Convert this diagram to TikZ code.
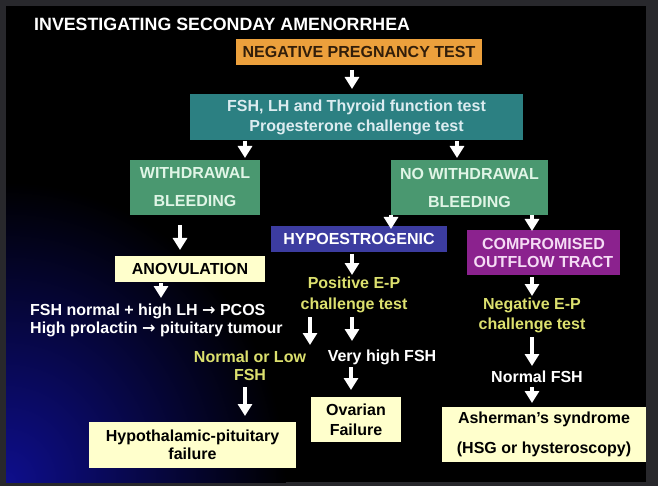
\documentclass[tikz,border=0pt]{standalone}
\usepackage{fontspec}
\setmainfont{Liberation Sans}
\newfontfamily\djv{DejaVu Sans}
\usetikzlibrary{arrows.meta}
\definecolor{framegray}{RGB}{40,40,44}
\definecolor{orangebox}{RGB}{236,160,60}
\definecolor{orangetext}{RGB}{50,30,10}
\definecolor{tealbox}{RGB}{44,128,130}
\definecolor{tealtext}{RGB}{220,236,240}
\definecolor{greenbox}{RGB}{74,152,112}
\definecolor{greentext}{RGB}{224,245,230}
\definecolor{bluebox}{RGB}{60,60,160}
\definecolor{purplebox}{RGB}{139,34,142}
\definecolor{purpletext}{RGB}{245,220,245}
\definecolor{creambox}{RGB}{255,255,204}
\definecolor{yellowtext}{RGB}{220,224,110}
\definecolor{glowblue}{RGB}{14,14,140}
\tikzset{
  boxnode/.style={inner sep=0pt, align=center, font=\bfseries\fontsize{16}{18}\selectfont},
  txtnode/.style={inner sep=0pt, align=center, font=\bfseries\fontsize{16}{18}\selectfont},
  arr/.style={draw=white, line width=4.5pt, -{Triangle[width=14pt,length=12pt]}}
}
\begin{document}
\begin{tikzpicture}[x=1pt,y=-1pt]
\useasboundingbox (0,0) rectangle (658,486);
\fill[framegray] (0,0) rectangle (658,486);
\fill[black] (6,6) rectangle (646,482);
\begin{scope}
  \clip (6,6) rectangle (646,482);
  \shade[inner color=glowblue, outer color=black] (6,482) ellipse [x radius=280, y radius=300];
\end{scope}

% title
\node[anchor=west, inner sep=0pt, text=white, font=\bfseries\fontsize{17.8}{20}\selectfont] (title) at (34,24) {INVESTIGATING SECONDAY AMENORRHEA};

% boxes
\node[boxnode, fill=orangebox, text=orangetext, minimum width=246pt, minimum height=26pt] (neg) at (359,52) {NEGATIVE PREGNANCY TEST};
\node[boxnode, fill=tealbox, text=tealtext, minimum width=333pt, minimum height=46pt, font=\bfseries\fontsize{16}{20}\selectfont] (fsh) at (356.5,117) {FSH, LH and Thyroid function test\\Progesterone challenge test};
\node[boxnode, fill=greenbox, text=greentext, minimum width=130pt, minimum height=55pt, font=\bfseries\fontsize{16}{28}\selectfont] (wd) at (195,187.5) {WITHDRAWAL\\BLEEDING};
\node[boxnode, fill=greenbox, text=greentext, minimum width=157pt, minimum height=55pt, font=\bfseries\fontsize{16}{28}\selectfont] (nwd) at (469.5,187.5) {NO WITHDRAWAL\\BLEEDING};
\node[boxnode, fill=bluebox, text=white, minimum width=176pt, minimum height=26pt] (hypo) at (359,239) {HYPOESTROGENIC};
\node[boxnode, fill=purplebox, text=purpletext, minimum width=153pt, minimum height=45pt] (comp) at (543.5,252.5) {COMPROMISED\\OUTFLOW TRACT};
\node[boxnode, fill=creambox, text=black, minimum width=150pt, minimum height=26pt] (anov) at (190,269) {ANOVULATION};
\node[boxnode, fill=creambox, text=black, minimum width=207pt, minimum height=46pt] (hyp) at (192.5,445) {Hypothalamic-pituitary\\failure};
\node[boxnode, fill=creambox, text=black, minimum width=90pt, minimum height=45pt, font=\bfseries\fontsize{16}{20}\selectfont] (ova) at (356,419.5) {Ovarian\\Failure};
\node[boxnode, fill=creambox, text=black, minimum width=204pt, minimum height=55pt, font=\bfseries\fontsize{16}{30}\selectfont] (ash) at (544,434.5) {Asherman's syndrome\\(HSG or hysteroscopy)};

% free texts
\node[txtnode, anchor=west, align=left, text=white] (pcos) at (30,320) {FSH normal + high LH {\djv\bfseries →} PCOS\\High prolactin {\djv\bfseries →} pituitary tumour};
\node[txtnode, text=yellowtext, font=\bfseries\fontsize{16}{21}\selectfont] (pos) at (354,294.5) {Positive E-P\\challenge test};
\node[txtnode, text=yellowtext] (normlow) at (250,366) {Normal or Low\\FSH};
\node[txtnode, text=white] (vh) at (382,357) {Very high FSH};
\node[txtnode, text=yellowtext, font=\bfseries\fontsize{16}{20}\selectfont] (negep) at (532,315) {Negative E-P\\challenge test};
\node[txtnode, text=white] (nfsh) at (537,377) {Normal FSH};

% arrows
\draw[arr] ([xshift=-7pt,yshift=-18pt]neg.center) -- ([xshift=-4.5pt,yshift=28pt]fsh.center);
\draw[arr] ([xshift=-111.5pt,yshift=-24pt]fsh.center) -- ([xshift=50pt,yshift=29.5pt]wd.center);
\draw[arr] ([xshift=100.5pt,yshift=-24pt]fsh.center) -- ([xshift=-12.5pt,yshift=29.5pt]nwd.center);
\draw[arr] ([xshift=-15pt,yshift=-37.5pt]wd.center) -- ([xshift=-10pt,yshift=19pt]anov.center);
\draw[arr] ([xshift=-78.5pt,yshift=-27.5pt]nwd.center) -- ([xshift=32pt,yshift=10pt]hypo.center);
\draw[arr] ([xshift=62.5pt,yshift=-27.5pt]nwd.center) -- ([xshift=-11.5pt,yshift=21.5pt]comp.center);
\draw[arr] ([xshift=-29pt,yshift=-14pt]anov.center) -- ([xshift=131pt,yshift=22pt]pcos.west);
\draw[arr] ([xshift=-7pt,yshift=-15pt]hypo.center) -- ([xshift=-2pt,yshift=19.5pt]pos.center);
\draw[arr] ([xshift=-44pt,yshift=-22.5pt]pos.center) -- ([xshift=60pt,yshift=21pt]normlow.center);
\draw[arr] ([xshift=-2pt,yshift=-22.5pt]pos.center) -- ([xshift=-30pt,yshift=16pt]vh.center);
\draw[arr] ([xshift=-5pt,yshift=-21pt]normlow.center) -- ([xshift=52.5pt,yshift=29pt]hyp.center);
\draw[arr] ([xshift=-31pt,yshift=-10pt]vh.center) -- ([xshift=-5pt,yshift=29.5pt]ova.center);
\draw[arr] ([xshift=-11.5pt,yshift=-24.5pt]comp.center) -- ([xshift=0pt,yshift=19pt]negep.center);
\draw[arr] ([xshift=0pt,yshift=-22pt]negep.center) -- ([xshift=-5pt,yshift=11pt]nfsh.center);
\draw[arr] ([xshift=-5pt,yshift=-10pt]nfsh.center) -- ([xshift=-12pt,yshift=31.5pt]ash.center);
\end{tikzpicture}
\end{document}
